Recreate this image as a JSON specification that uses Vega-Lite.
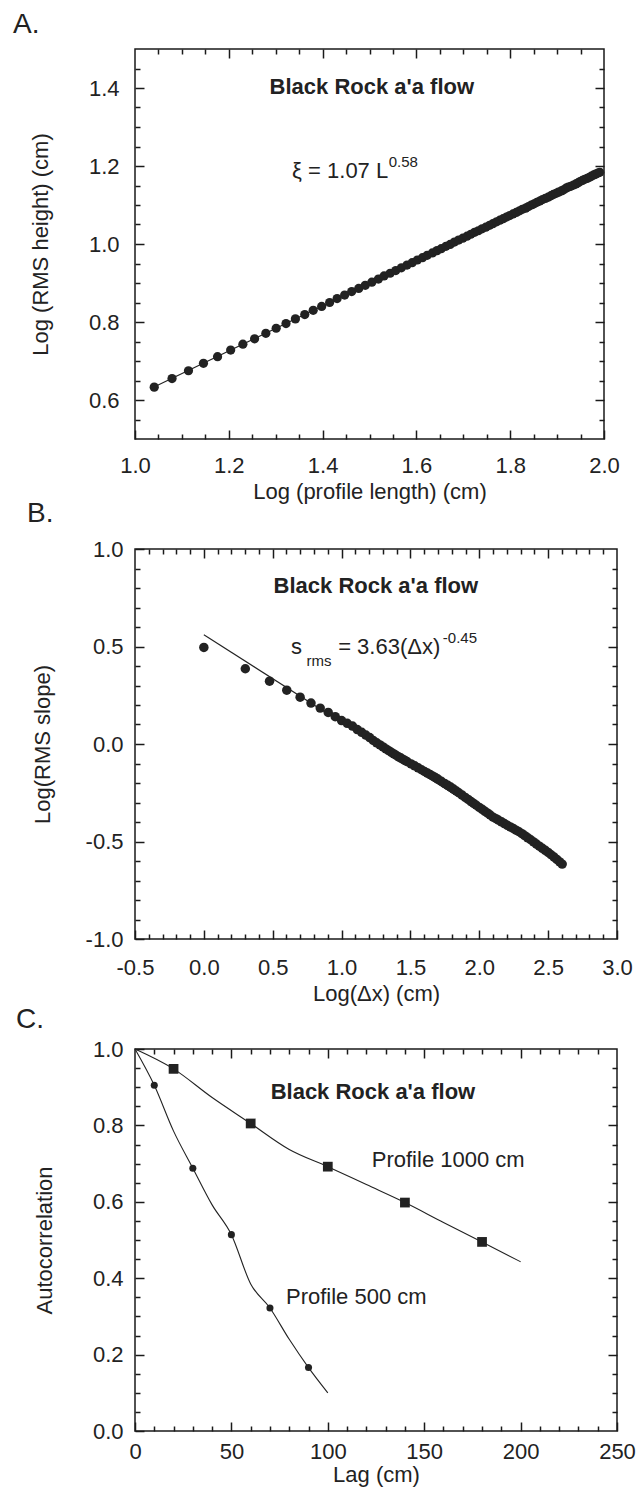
{
  "$schema": "https://vega.github.io/schema/vega-lite/v6.json",
  "padding": {"left": 12, "top": 10, "right": 5, "bottom": 2},
  "background": "white",
  "config": {
    "view": {"stroke": "#1a1a1a", "strokeWidth": 1.5},
    "axis": {"grid": false, "domain": false, "ticks": true, "tickColor": "#1a1a1a", "tickWidth": 1.5, "tickOpacity": 1, "labelColor": "#222", "titleColor": "#222", "labelFont": "Liberation Sans", "titleFont": "Liberation Sans", "labelFontSize": 22, "titleFontSize": 22, "titleFontWeight": "normal", "labelFlush": false, "labelOverlap": false, "labelBound": false, "zindex": 1},
    "title": {"font": "Liberation Sans", "fontWeight": "normal", "color": "#222", "fontSize": 28, "anchor": "start", "frame": "group", "baseline": "alphabetic", "offset": 0}
  },
  "datasets": {
    "a_pts": [{"x":1.041,"y":0.633},{"x":1.079,"y":0.655},{"x":1.114,"y":0.675},{"x":1.146,"y":0.694},{"x":1.176,"y":0.711},{"x":1.204,"y":0.728},{"x":1.23,"y":0.743},{"x":1.255,"y":0.757},{"x":1.279,"y":0.771},{"x":1.301,"y":0.784},{"x":1.322,"y":0.796},{"x":1.342,"y":0.808},{"x":1.362,"y":0.819},{"x":1.38,"y":0.83},{"x":1.398,"y":0.84},{"x":1.415,"y":0.85},{"x":1.431,"y":0.86},{"x":1.447,"y":0.869},{"x":1.462,"y":0.878},{"x":1.477,"y":0.886},{"x":1.491,"y":0.894},{"x":1.505,"y":0.902},{"x":1.519,"y":0.91},{"x":1.531,"y":0.918},{"x":1.544,"y":0.925},{"x":1.556,"y":0.932},{"x":1.568,"y":0.939},{"x":1.58,"y":0.946},{"x":1.591,"y":0.952},{"x":1.602,"y":0.959},{"x":1.613,"y":0.965},{"x":1.623,"y":0.971},{"x":1.634,"y":0.977},{"x":1.644,"y":0.983},{"x":1.653,"y":0.988},{"x":1.663,"y":0.994},{"x":1.672,"y":0.999},{"x":1.681,"y":1.005},{"x":1.69,"y":1.01},{"x":1.699,"y":1.015},{"x":1.708,"y":1.02},{"x":1.716,"y":1.025},{"x":1.724,"y":1.03},{"x":1.732,"y":1.034},{"x":1.74,"y":1.039},{"x":1.748,"y":1.043},{"x":1.756,"y":1.048},{"x":1.763,"y":1.052},{"x":1.771,"y":1.057},{"x":1.778,"y":1.061},{"x":1.785,"y":1.065},{"x":1.792,"y":1.069},{"x":1.799,"y":1.073},{"x":1.806,"y":1.077},{"x":1.813,"y":1.081},{"x":1.82,"y":1.085},{"x":1.826,"y":1.089},{"x":1.833,"y":1.092},{"x":1.839,"y":1.096},{"x":1.845,"y":1.1},{"x":1.851,"y":1.103},{"x":1.857,"y":1.107},{"x":1.863,"y":1.11},{"x":1.869,"y":1.114},{"x":1.875,"y":1.117},{"x":1.881,"y":1.12},{"x":1.887,"y":1.124},{"x":1.892,"y":1.127},{"x":1.898,"y":1.13},{"x":1.903,"y":1.133},{"x":1.909,"y":1.136},{"x":1.914,"y":1.139},{"x":1.919,"y":1.143},{"x":1.924,"y":1.146},{"x":1.929,"y":1.148},{"x":1.935,"y":1.151},{"x":1.94,"y":1.154},{"x":1.945,"y":1.157},{"x":1.949,"y":1.16},{"x":1.954,"y":1.163},{"x":1.959,"y":1.166},{"x":1.964,"y":1.168},{"x":1.969,"y":1.171},{"x":1.973,"y":1.174},{"x":1.978,"y":1.177},{"x":1.982,"y":1.179},{"x":1.987,"y":1.182},{"x":1.991,"y":1.184}],
    "a_fit": [{"x":1.035,"y":0.630},{"x":1.991,"y":1.184}],
    "a_title": [{"x":1.505,"y":1.403,"label":"Black Rock a'a flow"}],
    "a_eq": [{"x":1.335,"y":1.188,"label":"ξ = 1.07 L"}],
    "a_sup": [{"x":1.541,"y":1.21,"label":"0.58"}],
    "b_pts": [{"x":0,"y":0.495},{"x":0.301,"y":0.386},{"x":0.477,"y":0.322},{"x":0.602,"y":0.276},{"x":0.699,"y":0.24},{"x":0.778,"y":0.21},{"x":0.845,"y":0.184},{"x":0.903,"y":0.162},{"x":0.954,"y":0.14},{"x":1.0,"y":0.12},{"x":1.041,"y":0.106},{"x":1.079,"y":0.092},{"x":1.114,"y":0.074},{"x":1.146,"y":0.06},{"x":1.176,"y":0.046},{"x":1.204,"y":0.033},{"x":1.23,"y":0.018},{"x":1.255,"y":0.006},{"x":1.279,"y":-0.005},{"x":1.301,"y":-0.015},{"x":1.322,"y":-0.025},{"x":1.342,"y":-0.034},{"x":1.362,"y":-0.043},{"x":1.38,"y":-0.051},{"x":1.398,"y":-0.059},{"x":1.415,"y":-0.066},{"x":1.431,"y":-0.072},{"x":1.447,"y":-0.079},{"x":1.462,"y":-0.085},{"x":1.477,"y":-0.091},{"x":1.505,"y":-0.102},{"x":1.531,"y":-0.112},{"x":1.556,"y":-0.122},{"x":1.58,"y":-0.132},{"x":1.602,"y":-0.141},{"x":1.623,"y":-0.149},{"x":1.643,"y":-0.157},{"x":1.663,"y":-0.165},{"x":1.681,"y":-0.172},{"x":1.699,"y":-0.18},{"x":1.724,"y":-0.191},{"x":1.748,"y":-0.202},{"x":1.771,"y":-0.212},{"x":1.792,"y":-0.221},{"x":1.813,"y":-0.231},{"x":1.833,"y":-0.241},{"x":1.851,"y":-0.25},{"x":1.875,"y":-0.262},{"x":1.898,"y":-0.274},{"x":1.919,"y":-0.284},{"x":1.94,"y":-0.295},{"x":1.959,"y":-0.305},{"x":1.978,"y":-0.314},{"x":2.0,"y":-0.325},{"x":2.021,"y":-0.335},{"x":2.041,"y":-0.345},{"x":2.061,"y":-0.355},{"x":2.079,"y":-0.364},{"x":2.1,"y":-0.375},{"x":2.121,"y":-0.383},{"x":2.14,"y":-0.391},{"x":2.161,"y":-0.399},{"x":2.182,"y":-0.408},{"x":2.204,"y":-0.417},{"x":2.225,"y":-0.425},{"x":2.246,"y":-0.433},{"x":2.267,"y":-0.442},{"x":2.288,"y":-0.45},{"x":2.31,"y":-0.46},{"x":2.33,"y":-0.47},{"x":2.352,"y":-0.481},{"x":2.373,"y":-0.491},{"x":2.394,"y":-0.502},{"x":2.415,"y":-0.513},{"x":2.436,"y":-0.524},{"x":2.458,"y":-0.535},{"x":2.479,"y":-0.545},{"x":2.5,"y":-0.556},{"x":2.521,"y":-0.568},{"x":2.543,"y":-0.58},{"x":2.563,"y":-0.592},{"x":2.584,"y":-0.605},{"x":2.602,"y":-0.616}],
    "b_fit": [{"x":0.0,"y":0.56},{"x":2.6,"y":-0.61}],
    "b_title": [{"x":1.249,"y":0.81,"label":"Black Rock a'a flow"}],
    "b_eq": [{"x":0.632,"y":0.5,"label":"s"},{"x":0.975,"y":0.5,"label":"= 3.63(Δx)"}],
    "b_small": [{"x":0.745,"y":0.425,"label":"rms"},{"x":1.735,"y":0.545,"label":"-0.45"}],
    "c_lines": [{"profile":"1000","x":0,"y":1.0},{"profile":"1000","x":20,"y":0.948},{"profile":"1000","x":40,"y":0.873},{"profile":"1000","x":60,"y":0.805},{"profile":"1000","x":80,"y":0.737},{"profile":"1000","x":100,"y":0.692},{"profile":"1000","x":120,"y":0.645},{"profile":"1000","x":140,"y":0.598},{"profile":"1000","x":160,"y":0.546},{"profile":"1000","x":180,"y":0.495},{"profile":"1000","x":200,"y":0.443},{"profile":"500","x":0,"y":1.0},{"profile":"500","x":10,"y":0.905},{"profile":"500","x":20,"y":0.785},{"profile":"500","x":30,"y":0.688},{"profile":"500","x":40,"y":0.592},{"profile":"500","x":50,"y":0.514},{"profile":"500","x":60,"y":0.385},{"profile":"500","x":70,"y":0.322},{"profile":"500","x":80,"y":0.24},{"profile":"500","x":90,"y":0.166},{"profile":"500","x":100,"y":0.1}],
    "c_sq": [{"x":20,"y":0.948},{"x":60,"y":0.805},{"x":100,"y":0.692},{"x":140,"y":0.598},{"x":180,"y":0.495}],
    "c_ci": [{"x":10,"y":0.905},{"x":30,"y":0.688},{"x":50,"y":0.514},{"x":70,"y":0.322},{"x":90,"y":0.166}],
    "c_title": [{"x":123.4,"y":0.888,"label":"Black Rock a'a flow"}],
    "c_lab": [{"x":122.8,"y":0.71,"label":"Profile 1000 cm"},{"x":78.3,"y":0.35,"label":"Profile 500 cm"}]
  },
  "spacing": 110,
  "bounds": "flush",
  "vconcat": [
    {
      "width": 469, "height": 390,
      "title": {"text": "A.", "dx": -122, "dy": -5},
      "resolve": {"axis": {"x": "independent", "y": "independent"}},
      "layer": [
        {"data": {"name": "a_fit"}, "mark": {"type": "line", "color": "#222", "strokeWidth": 1.1},
         "encoding": {
           "x": {"field": "x", "type": "quantitative", "scale": {"domain": [1, 2], "nice": false, "zero": false}, "axis": {"orient": "bottom", "values": [1, 1.2, 1.4, 1.6, 1.8, 2], "format": ".1f", "offset": -9, "tickSize": 9, "labelPadding": 16, "title": "Log (profile length) (cm)", "titlePadding": 5}},
           "y": {"field": "y", "type": "quantitative", "scale": {"domain": [0.5, 1.5], "nice": false, "zero": false}, "axis": {"orient": "left", "values": [0.6, 0.8, 1.0, 1.2, 1.4], "format": ".1f", "offset": -9, "tickSize": 9, "labelPadding": 16, "title": "Log (RMS height) (cm)", "titlePadding": 36}}
         }},
        {"data": {"name": "a_pts"}, "mark": {"type": "circle", "size": 85, "color": "#222", "opacity": 1},
         "encoding": {
           "x": {"field": "x", "type": "quantitative", "scale": {"domain": [1, 2], "nice": false, "zero": false}, "axis": {"orient": "bottom", "values": [1.05, 1.1, 1.15, 1.25, 1.3, 1.35, 1.45, 1.5, 1.55, 1.65, 1.7, 1.75, 1.85, 1.9, 1.95], "offset": -5, "tickSize": 5, "labels": false, "title": null}},
           "y": {"field": "y", "type": "quantitative", "scale": {"domain": [0.5, 1.5], "nice": false, "zero": false}, "axis": {"orient": "left", "values": [0.55, 0.65, 0.7, 0.75, 0.85, 0.9, 0.95, 1.05, 1.1, 1.15, 1.25, 1.3, 1.35, 1.45], "offset": -5, "tickSize": 5, "labels": false, "title": null}}
         }},
        {"data": {"name": "a_title"}, "mark": {"type": "text", "font": "Liberation Sans", "fontSize": 22, "fontWeight": "bold", "color": "#222", "align": "center", "baseline": "middle"},
         "encoding": {
           "x": {"field": "x", "type": "quantitative", "scale": {"domain": [1, 2], "nice": false, "zero": false}, "axis": {"orient": "top", "values": [1.2, 1.4, 1.6, 1.8], "offset": -9, "tickSize": 9, "labels": false, "title": null}},
           "y": {"field": "y", "type": "quantitative", "scale": {"domain": [0.5, 1.5], "nice": false, "zero": false}, "axis": {"orient": "right", "values": [0.6, 0.8, 1.0, 1.2, 1.4], "offset": -9, "tickSize": 9, "labels": false, "title": null}},
           "text": {"field": "label"}
         }},
        {"data": {"name": "a_eq"}, "mark": {"type": "text", "font": "Liberation Sans", "fontSize": 22, "color": "#222", "align": "left", "baseline": "middle"},
         "encoding": {
           "x": {"field": "x", "type": "quantitative", "scale": {"domain": [1, 2], "nice": false, "zero": false}, "axis": {"orient": "top", "values": [1.05, 1.1, 1.15, 1.25, 1.3, 1.35, 1.45, 1.5, 1.55, 1.65, 1.7, 1.75, 1.85, 1.9, 1.95], "offset": -5, "tickSize": 5, "labels": false, "title": null}},
           "y": {"field": "y", "type": "quantitative", "scale": {"domain": [0.5, 1.5], "nice": false, "zero": false}, "axis": {"orient": "right", "values": [0.55, 0.65, 0.7, 0.75, 0.85, 0.9, 0.95, 1.05, 1.1, 1.15, 1.25, 1.3, 1.35, 1.45], "offset": -5, "tickSize": 5, "labels": false, "title": null}},
           "text": {"field": "label"}
         }},
        {"data": {"name": "a_sup"}, "mark": {"type": "text", "font": "Liberation Sans", "fontSize": 15, "color": "#222", "align": "left", "baseline": "middle"},
         "encoding": {
           "x": {"field": "x", "type": "quantitative", "scale": {"domain": [1, 2], "nice": false, "zero": false}, "axis": null},
           "y": {"field": "y", "type": "quantitative", "scale": {"domain": [0.5, 1.5], "nice": false, "zero": false}, "axis": null},
           "text": {"field": "label"}
         }}
      ]
    },
    {
      "width": 482, "height": 390,
      "title": {"text": "B.", "dx": -108, "dy": -6},
      "resolve": {"axis": {"x": "independent", "y": "independent"}},
      "layer": [
        {"data": {"name": "b_fit"}, "mark": {"type": "line", "color": "#222", "strokeWidth": 1.1},
         "encoding": {
           "x": {"field": "x", "type": "quantitative", "scale": {"domain": [-0.5, 3], "nice": false, "zero": false}, "axis": {"orient": "bottom", "values": [-0.5, 0, 0.5, 1, 1.5, 2, 2.5, 3], "format": ".1f", "labelExpr": "replace(datum.label, '\u2212', '-')", "offset": -9, "tickSize": 9, "labelPadding": 18, "title": "Log(Δx) (cm)", "titlePadding": 5}},
           "y": {"field": "y", "type": "quantitative", "scale": {"domain": [-1, 1], "nice": false, "zero": false}, "axis": {"orient": "left", "values": [-1, -0.5, 0, 0.5, 1], "format": ".1f", "labelExpr": "replace(datum.label, '\u2212', '-')", "offset": -9, "tickSize": 9, "labelPadding": 12, "title": "Log(RMS slope)", "titlePadding": 31}}
         }},
        {"data": {"name": "b_pts"}, "mark": {"type": "circle", "size": 90, "color": "#222", "opacity": 1},
         "encoding": {
           "x": {"field": "x", "type": "quantitative", "scale": {"domain": [-0.5, 3], "nice": false, "zero": false}, "axis": {"orient": "bottom", "values": [-0.4, -0.3, -0.2, -0.1, 0.1, 0.2, 0.3, 0.4, 0.6, 0.7, 0.8, 0.9, 1.1, 1.2, 1.3, 1.4, 1.6, 1.7, 1.8, 1.9, 2.1, 2.2, 2.3, 2.4, 2.6, 2.7, 2.8, 2.9], "offset": -5, "tickSize": 5, "labels": false, "title": null}},
           "y": {"field": "y", "type": "quantitative", "scale": {"domain": [-1, 1], "nice": false, "zero": false}, "axis": {"orient": "left", "values": [-0.9, -0.8, -0.7, -0.6, -0.4, -0.3, -0.2, -0.1, 0.1, 0.2, 0.3, 0.4, 0.6, 0.7, 0.8, 0.9], "offset": -5, "tickSize": 5, "labels": false, "title": null}}
         }},
        {"data": {"name": "b_title"}, "mark": {"type": "text", "font": "Liberation Sans", "fontSize": 22, "fontWeight": "bold", "color": "#222", "align": "center", "baseline": "middle"},
         "encoding": {
           "x": {"field": "x", "type": "quantitative", "scale": {"domain": [-0.5, 3], "nice": false, "zero": false}, "axis": {"orient": "top", "values": [0, 0.5, 1, 1.5, 2, 2.5], "offset": -9, "tickSize": 9, "labels": false, "title": null}},
           "y": {"field": "y", "type": "quantitative", "scale": {"domain": [-1, 1], "nice": false, "zero": false}, "axis": {"orient": "right", "values": [-0.5, 0, 0.5], "offset": -9, "tickSize": 9, "labels": false, "title": null}},
           "text": {"field": "label"}
         }},
        {"data": {"name": "b_eq"}, "mark": {"type": "text", "font": "Liberation Sans", "fontSize": 22, "color": "#222", "align": "left", "baseline": "middle"},
         "encoding": {
           "x": {"field": "x", "type": "quantitative", "scale": {"domain": [-0.5, 3], "nice": false, "zero": false}, "axis": {"orient": "top", "values": [-0.4, -0.3, -0.2, -0.1, 0.1, 0.2, 0.3, 0.4, 0.6, 0.7, 0.8, 0.9, 1.1, 1.2, 1.3, 1.4, 1.6, 1.7, 1.8, 1.9, 2.1, 2.2, 2.3, 2.4, 2.6, 2.7, 2.8, 2.9], "offset": -5, "tickSize": 5, "labels": false, "title": null}},
           "y": {"field": "y", "type": "quantitative", "scale": {"domain": [-1, 1], "nice": false, "zero": false}, "axis": {"orient": "right", "values": [-0.9, -0.8, -0.7, -0.6, -0.4, -0.3, -0.2, -0.1, 0.1, 0.2, 0.3, 0.4, 0.6, 0.7, 0.8, 0.9], "offset": -5, "tickSize": 5, "labels": false, "title": null}},
           "text": {"field": "label"}
         }},
        {"data": {"name": "b_small"}, "mark": {"type": "text", "font": "Liberation Sans", "fontSize": 15, "color": "#222", "align": "left", "baseline": "middle"},
         "encoding": {
           "x": {"field": "x", "type": "quantitative", "scale": {"domain": [-0.5, 3], "nice": false, "zero": false}, "axis": null},
           "y": {"field": "y", "type": "quantitative", "scale": {"domain": [-1, 1], "nice": false, "zero": false}, "axis": null},
           "text": {"field": "label"}
         }}
      ]
    },
    {
      "width": 482, "height": 382,
      "title": {"text": "C.", "dx": -119, "dy": 0},
      "resolve": {"axis": {"x": "independent", "y": "independent"}},
      "layer": [
        {"data": {"name": "c_lines"}, "mark": {"type": "line", "color": "#222", "strokeWidth": 1.1, "interpolate": "monotone"},
         "encoding": {
           "x": {"field": "x", "type": "quantitative", "scale": {"domain": [0, 250], "nice": false, "zero": false}, "axis": {"orient": "bottom", "values": [0, 50, 100, 150, 200, 250], "format": "d", "offset": -9, "tickSize": 9, "labelPadding": 10, "title": "Lag (cm)", "titlePadding": 2}},
           "y": {"field": "y", "type": "quantitative", "scale": {"domain": [0, 1], "nice": false, "zero": false}, "axis": {"orient": "left", "values": [0, 0.2, 0.4, 0.6, 0.8, 1.0], "format": ".1f", "offset": -9, "tickSize": 9, "labelPadding": 12, "title": "Autocorrelation", "titlePadding": 36}},
           "detail": {"field": "profile", "type": "nominal"}
         }},
        {"data": {"name": "c_sq"}, "mark": {"type": "square", "size": 95, "color": "#222", "opacity": 1, "filled": true},
         "encoding": {
           "x": {"field": "x", "type": "quantitative", "scale": {"domain": [0, 250], "nice": false, "zero": false}, "axis": {"orient": "bottom", "values": [10, 20, 30, 40, 60, 70, 80, 90, 110, 120, 130, 140, 160, 170, 180, 190, 210, 220, 230, 240], "offset": -5, "tickSize": 5, "labels": false, "title": null}},
           "y": {"field": "y", "type": "quantitative", "scale": {"domain": [0, 1], "nice": false, "zero": false}, "axis": {"orient": "left", "values": [0.05, 0.1, 0.15, 0.25, 0.3, 0.35, 0.45, 0.5, 0.55, 0.65, 0.7, 0.75, 0.85, 0.9, 0.95], "offset": -5, "tickSize": 5, "labels": false, "title": null}}
         }},
        {"data": {"name": "c_ci"}, "mark": {"type": "circle", "size": 50, "color": "#222", "opacity": 1},
         "encoding": {
           "x": {"field": "x", "type": "quantitative", "scale": {"domain": [0, 250], "nice": false, "zero": false}, "axis": {"orient": "top", "values": [50, 100, 150, 200], "offset": -9, "tickSize": 9, "labels": false, "title": null}},
           "y": {"field": "y", "type": "quantitative", "scale": {"domain": [0, 1], "nice": false, "zero": false}, "axis": {"orient": "right", "values": [0.2, 0.4, 0.6, 0.8], "offset": -9, "tickSize": 9, "labels": false, "title": null}}
         }},
        {"data": {"name": "c_title"}, "mark": {"type": "text", "font": "Liberation Sans", "fontSize": 22, "fontWeight": "bold", "color": "#222", "align": "center", "baseline": "middle"},
         "encoding": {
           "x": {"field": "x", "type": "quantitative", "scale": {"domain": [0, 250], "nice": false, "zero": false}, "axis": {"orient": "top", "values": [10, 20, 30, 40, 60, 70, 80, 90, 110, 120, 130, 140, 160, 170, 180, 190, 210, 220, 230, 240], "offset": -5, "tickSize": 5, "labels": false, "title": null}},
           "y": {"field": "y", "type": "quantitative", "scale": {"domain": [0, 1], "nice": false, "zero": false}, "axis": {"orient": "right", "values": [0.05, 0.1, 0.15, 0.25, 0.3, 0.35, 0.45, 0.5, 0.55, 0.65, 0.7, 0.75, 0.85, 0.9, 0.95], "offset": -5, "tickSize": 5, "labels": false, "title": null}},
           "text": {"field": "label"}
         }},
        {"data": {"name": "c_lab"}, "mark": {"type": "text", "font": "Liberation Sans", "fontSize": 22, "color": "#222", "align": "left", "baseline": "middle"},
         "encoding": {
           "x": {"field": "x", "type": "quantitative", "scale": {"domain": [0, 250], "nice": false, "zero": false}, "axis": null},
           "y": {"field": "y", "type": "quantitative", "scale": {"domain": [0, 1], "nice": false, "zero": false}, "axis": null},
           "text": {"field": "label"}
         }}
      ]
    }
  ]
}
